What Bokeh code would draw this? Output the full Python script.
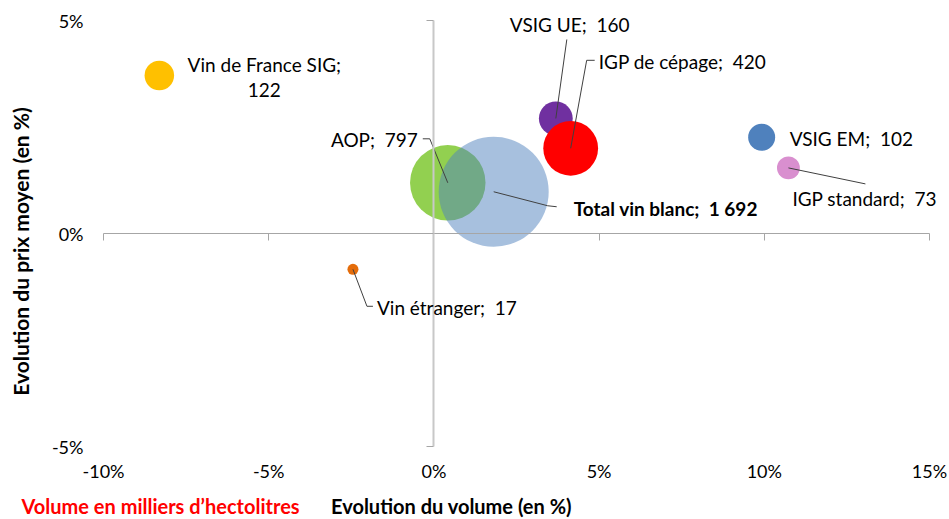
import numpy as np
from bokeh.plotting import figure
from bokeh.models import Range1d, LinearAxis, FixedTicker, Label
from bokeh.embed import file_html
from bokeh.resources import INLINE

# ---- data ----
names = ["Vin de France SIG", "VSIG UE", "IGP de cépage", "VSIG EM",
         "IGP standard", "AOP", "Total vin blanc", "Vin étranger"]
vol_change = [-8.31, 3.69, 4.14, 9.92, 10.73, 0.42, 1.81, -2.45]     # x, %
price_change = [3.71, 2.70, 2.00, 2.26, 1.54, 1.19, 0.98, -0.84]     # y, %
volumes = [122, 160, 420, 102, 73, 797, 1692, 17]                    # milliers hl
volume_labels = ["122", "160", "420", "102", "73", "797", "1 692", "17"]
x_ticks = [-10, -5, 0, 5, 10, 15]
y_ticks = [-5, 0, 5]
x_tick_labels = ["-10%", "-5%", "0%", "5%", "10%", "15%"]
y_tick_labels = ["-5%", "0%", "5%"]

# ---- layout / styles ----
colors = ["#FFC000", "#7030A0", "#FF0000", "#4F81BD",
          "#D98FCF", "#92D050", "#4F81BD", "#E46C0A"]
alphas = [1, 1, 1, 1, 1, 1, 0.5, 1]
FONT = "Lato"
W, H = 949, 519
# pixel position of the data area (x: -10..15, y: -5..5)
PL, PR, PT, PB = 103, 929, 20, 446
XMIN, XMAX, YMIN, YMAX = x_ticks[0], x_ticks[-1], y_ticks[0], y_ticks[-1]
PX = (PR - PL) / (XMAX - XMIN)
PY = (PB - PT) / (YMAX - YMIN)
MAX_DIAM = 110

x_range = Range1d(XMIN - PL / PX, XMAX + (W - PR) / PX)
y_range = Range1d(YMIN - (H - PB) / PY, YMAX + PT / PY)

p = figure(width=W, height=H, output_backend="svg", toolbar_location=None,
           x_range=x_range, y_range=y_range,
           x_axis_location=None, y_axis_location=None, min_border=0)
p.outline_line_color = None
p.background_fill_color = "white"
p.border_fill_color = "white"
p.xgrid.visible = False
p.ygrid.visible = False

# tick label axes (no lines), fixed at the edges of the data area
xlab = LinearAxis(fixed_location=YMIN, bounds=(XMIN, XMAX),
                  ticker=FixedTicker(ticks=x_ticks),
                  major_label_overrides={t: l for t, l in zip(x_ticks, x_tick_labels)},
                  axis_line_color=None, major_tick_line_color=None,
                  minor_tick_line_color=None, major_tick_out=0, major_tick_in=0,
                  major_label_standoff=13, major_label_text_font=FONT,
                  major_label_text_font_size="18px",
                  major_label_text_color="#000000")
ylab = LinearAxis(fixed_location=XMIN, bounds=(YMIN, YMAX),
                  ticker=FixedTicker(ticks=y_ticks),
                  major_label_overrides={t: l for t, l in zip(y_ticks, y_tick_labels)},
                  axis_line_color=None, major_tick_line_color=None,
                  minor_tick_line_color=None, major_tick_out=0, major_tick_in=0,
                  major_label_standoff=20, major_label_text_font=FONT,
                  major_label_text_font_size="18px",
                  major_label_text_color="#000000")
p.add_layout(xlab, "below")
p.add_layout(ylab, "left")

# crossing axes at 0 (line + ticks only)
xcross = LinearAxis(fixed_location=0, bounds=(XMIN, XMAX),
                    ticker=FixedTicker(ticks=x_ticks),
                    major_label_overrides={t: "" for t in x_ticks},
                    axis_line_color="#A6A6A6", axis_line_width=1.2,
                    major_tick_line_color="#A6A6A6", major_tick_out=7,
                    major_tick_in=0, minor_tick_line_color=None,
                    major_label_standoff=0)
ycross = LinearAxis(fixed_location=0, bounds=(YMIN, YMAX),
                    ticker=FixedTicker(ticks=y_ticks),
                    major_label_overrides={t: "" for t in y_ticks},
                    axis_line_color="#C8C8C8", axis_line_width=2,
                    major_tick_line_color="#A6A6A6", major_tick_out=7,
                    major_tick_in=0, minor_tick_line_color=None,
                    major_label_standoff=0)
p.add_layout(xcross, "below")
p.add_layout(ycross, "left")

# bubbles
diam = [MAX_DIAM * np.sqrt(v / max(volumes)) for v in volumes]
for i in range(len(names)):
    p.scatter(x=[vol_change[i]], y=[price_change[i]], size=diam[i],
              fill_color=colors[i], fill_alpha=alphas[i], line_color=None)

def dx(px): return px / PX
def dy(py): return -py / PY   # image pixel offset (down positive) -> data

# leader lines (pixel offsets from bubble centre)
leaders = {
    "VSIG UE": [(0, 0), (11, -79)],
    "IGP de cépage": [(0, 0), (16, -88), (24, -88)],
    "AOP": [(0, 0), (-18, -44), (-25, -44)],
    "Total vin blanc": [(0, 0), (54, 14), (63, 15)],
    "IGP standard": [(0, 0), (77, 16)],
    "Vin étranger": [(0, 0), (14, 37), (20, 37)],
}
for name, pts in leaders.items():
    i = names.index(name)
    xs = [vol_change[i] + dx(a) for a, b in pts]
    ys = [price_change[i] + dy(b) for a, b in pts]
    p.line(xs, ys, line_color="#404040", line_width=1)

# data labels: (offset x px, offset y px, align)
label_pos = {
    "VSIG UE": (-46, -94, "left"),
    "IGP de cépage": (28, -87, "left"),
    "VSIG EM": (28, 1, "left"),
    "IGP standard": (4, 31, "left"),
    "AOP": (-30, -43, "right"),
    "Total vin blanc": (80, 17, "left"),
    "Vin étranger": (24, 38, "left"),
}
for name, (ox, oy, al) in label_pos.items():
    i = names.index(name)
    p.add_layout(Label(x=vol_change[i] + dx(ox), y=price_change[i] + dy(oy),
                       text=f"{name};\u00a0 {volume_labels[i]}",
                       text_font=FONT, text_font_size="19px",
                       text_align=al, text_baseline="middle",
                       text_color="#000000",
                       text_font_style="bold" if name == "Total vin blanc" else "normal"))
# two-line label
i = names.index("Vin de France SIG")
for txt, oy in ((f"{names[i]};", -11), (volume_labels[i], 15)):
    p.add_layout(Label(x=vol_change[i] + dx(105), y=price_change[i] + dy(oy),
                       text=txt, text_font=FONT, text_font_size="19px",
                       text_align="center", text_baseline="middle",
                       text_color="#000000"))

# axis titles and note (screen units: frame == canvas)
p.add_layout(Label(x=451, y=H - 505, x_units="screen", y_units="screen",
                   text="Evolution du volume (en %)", text_font=FONT,
                   text_font_size="20px", text_font_style="bold",
                   text_align="center", text_baseline="middle",
                   text_color="#000000"))
p.add_layout(Label(x=21, y=H - 505, x_units="screen", y_units="screen",
                   text="Volume en milliers d’hectolitres", text_font=FONT,
                   text_font_size="20px", text_font_style="bold",
                   text_align="left", text_baseline="middle",
                   text_color="#FF0000"))
p.add_layout(Label(x=20, y=H - 251, x_units="screen", y_units="screen",
                   text="Evolution du prix moyen (en %)", text_font=FONT,
                   text_font_size="21px", text_font_style="bold",
                   text_align="center", text_baseline="middle",
                   angle=90, angle_units="deg", text_color="#000000"))

open("out.html", "w").write(file_html(p, INLINE))
